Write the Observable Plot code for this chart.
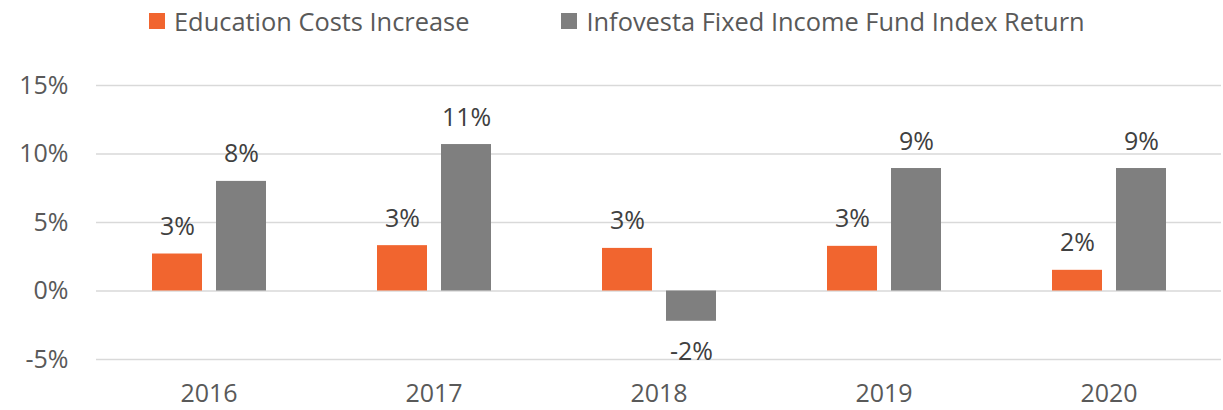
<!DOCTYPE html>
<html>
<head>
<meta charset="utf-8">
<script src="https://cdn.jsdelivr.net/npm/d3@7"></script>
<script src="https://cdn.jsdelivr.net/npm/@observablehq/plot@0.6"></script>
<style>
  body { margin: 0; background: #fff; font-family: "Open Sans", sans-serif; }
  #legend { height: 42px; margin-bottom: 3px; display: flex; align-items: center; padding-left: 149px; box-sizing: border-box; color: #595959; font-size: 25.4px; }
  .item { display: flex; align-items: center; }
  .sw { width: 16px; height: 16px; margin-right: 9px; }
  .item + .item { margin-left: 92px; }
</style>
</head>
<body>
<div id="legend"></div>
<div id="chart"></div>
<script>
const years = ["2016", "2017", "2018", "2019", "2020"];
const series = ["Education Costs Increase", "Infovesta Fixed Income Fund Index Return"];
const educationCosts = [2.70, 3.31, 3.11, 3.26, 1.51];
const infovestaReturn = [8.00, 10.69, -2.21, 8.94, 8.94];
const colors = ["#F1652F", "#7F7F7F"];
const yTicks = [-5, 0, 5, 10, 15];

const data = [];
years.forEach((y, i) => {
  data.push({year: y, series: series[0], value: educationCosts[i]});
  data.push({year: y, series: series[1], value: infovestaReturn[i]});
});

const legend = document.getElementById("legend");
series.forEach((s, i) => {
  const it = document.createElement("div");
  it.className = "item";
  it.innerHTML = `<div class="sw" style="background:${colors[i]}"></div><span>${s}</span>`;
  legend.appendChild(it);
});

const chart = Plot.plot({
  width: 1223,
  height: 365,
  marginTop: 40,
  marginBottom: 51,
  marginLeft: 96,
  marginRight: 2,
  style: {fontFamily: "Open Sans", fontSize: "25px", color: "#595959", background: "#fff"},
  fx: {domain: years, padding: 0, label: null},
  x: {domain: series, paddingInner: 0.2248, paddingOuter: 0.856, axis: null},
  y: {domain: [-5, 15], label: null},
  color: {domain: series, range: colors},
  marks: [
    Plot.ruleY(yTicks, {stroke: "#D9D9D9", strokeWidth: 1.3}),
    Plot.axisY({ticks: yTicks, tickFormat: d => d + "%", tickSize: 0, tickPadding: 28, fill: "#595959", label: null}),
    Plot.axisFx({anchor: "bottom", tickSize: 0, tickPadding: 25, fill: "#595959", label: null}),
    Plot.barY(data, {fx: "year", x: "series", y: "value", fill: "series"}),
    Plot.text(data.filter(d => d.value >= 0), {fx: "year", x: "series", y: "value", text: d => Math.round(d.value) + "%", dy: -27, fill: "#404040"}),
    Plot.text(data.filter(d => d.value < 0), {fx: "year", x: "series", y: "value", text: d => Math.round(d.value) + "%", dy: 31, fill: "#404040"})
  ]
});
document.getElementById("chart").appendChild(chart);
</script>
</body>
</html>
